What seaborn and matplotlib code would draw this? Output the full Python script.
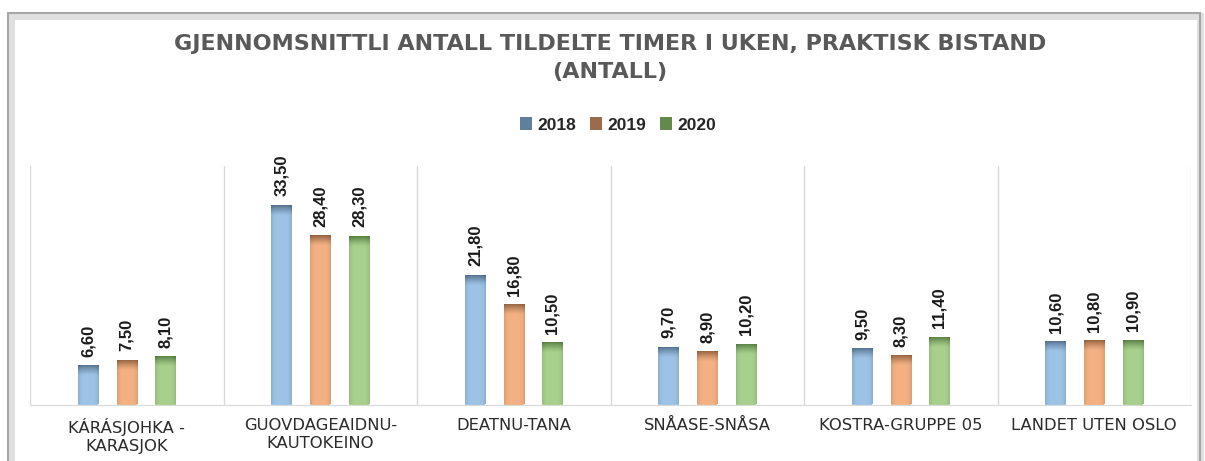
import numpy as np
import pandas as pd
import seaborn as sns
import matplotlib.pyplot as plt
from matplotlib.patches import Patch, Rectangle
from matplotlib.colors import to_rgb

# data
kommuner = ["KÁRÁSJOHKA -\nKARASJOK", "GUOVDAGEAIDNU-\nKAUTOKEINO", "DEATNU-TANA",
            "SNÅASE-SNÅSA", "KOSTRA-GRUPPE 05", "LANDET UTEN OSLO"]
years = ["2018", "2019", "2020"]
v2018 = [6.6, 33.5, 21.8, 9.7, 9.5, 10.6]
v2019 = [7.5, 28.4, 16.8, 8.9, 8.3, 10.8]
v2020 = [8.1, 28.3, 10.5, 10.2, 11.4, 10.9]

base_colors = ["#9DC3E6", "#F4B183", "#A9D18E"]
top_colors = ["#4D6B88", "#8E5C3A", "#527A3C"]
legend_colors = ["#5F7F9C", "#9C6B4B", "#64894F"]

df = pd.DataFrame({
    "kommune": kommuner * 3,
    "år": [y for y in years for _ in kommuner],
    "timer": v2018 + v2019 + v2020,
})

sns.set_style("white")
plt.rcParams["font.family"] = ["Liberation Sans", "DejaVu Sans"]
wide = ["DejaVu Sans"]

fig = plt.figure(figsize=(12.05, 4.61), dpi=100)
ax = fig.add_axes([30 / 1205, 1 - 404.5 / 461, (1191 - 30) / 1205, (404.5 - 166) / 461])

sns.barplot(data=df, x="kommune", y="timer", hue="år", palette=base_colors,
            width=0.6, gap=0.475, ax=ax, legend=False, saturation=1,
            edgecolor="none", linewidth=0)

# gradient tops, like the Excel bevel
for cont, base, top in zip(ax.containers, base_colors, top_colors):
    b = np.array(to_rgb(base))
    t = np.array(to_rgb(top))
    for p in cont.patches:
        x0, w, h = p.get_x(), p.get_width(), p.get_height()
        yy = np.linspace(0, h, 200)
        f = np.clip(1 - (h - yy) / 1.9, 0, 1) ** 1.3
        xx = np.linspace(-1, 1, 24)
        side = 1 - 0.10 * np.abs(xx) ** 4
        img = (b[None, None, :] * (1 - f[:, None, None]) + t[None, None, :] * f[:, None, None])
        img = img * side[None, :, None]
        im = ax.imshow(img, extent=(x0, x0 + w, 0, h), origin="lower",
                       aspect="auto", zorder=3, interpolation="bilinear")
        im.set_clip_path(p)
    ax.bar_label(cont, fmt=lambda v: f"{v:.2f}".replace(".", ","), rotation=90,
                 padding=6, fontsize=12, fontweight="bold", color="#1a1a1a")

ax.set_xlim(-0.5, len(kommuner) - 0.5)
ax.set_ylim(0, 40)
ax.set_yticks([])
ax.set_xlabel("")
ax.set_ylabel("")
ax.set_xticks(np.arange(-0.5, len(kommuner)), minor=True)
ax.grid(axis="x", which="minor", color="#D9D9D9", linewidth=1)
ax.grid(axis="x", which="major", visible=False)
ax.tick_params(axis="x", which="both", length=0, pad=10, labelsize=11.8, labelcolor="#2b2b2b")
for lab in ax.get_xticklabels():
    lab.set_family(wide)
    lab.set_linespacing(1.2)
for s in ["top", "left", "right"]:
    ax.spines[s].set_visible(False)
ax.spines["bottom"].set_color("#D9D9D9")

handles = [Patch(facecolor=c, edgecolor="none") for c in legend_colors]
fig.legend(handles, years, loc="center", bbox_to_anchor=(618 / 1205, 1 - 125 / 461),
           ncol=3, frameon=False, handlelength=0.7, handleheight=0.7,
           handletextpad=0.3, columnspacing=0.8,
           prop={"weight": "bold", "size": 12.5})

fig.text(610 / 1205, 1 - 34 / 461,
         "GJENNOMSNITTLI ANTALL TILDELTE TIMER I UKEN, PRAKTISK BISTAND\n(ANTALL)",
         ha="center", va="top", fontsize=16, fontweight="bold", color="#595959",
         linespacing=1.5, family=wide)

# chart frame with soft shadow
for off, col, lw in [(3, "#E0E0E0", 5), (0, "#A6A6A6", 1.5)]:
    fig.patches.append(Rectangle(((8 + off) / 1205, -0.1), (1192 - off) / 1205,
                                 1 - (13 + off) / 461 + 0.1, transform=fig.transFigure,
                                 fill=False, edgecolor=col, linewidth=lw, zorder=0))

fig.savefig("out.png", dpi=100)
